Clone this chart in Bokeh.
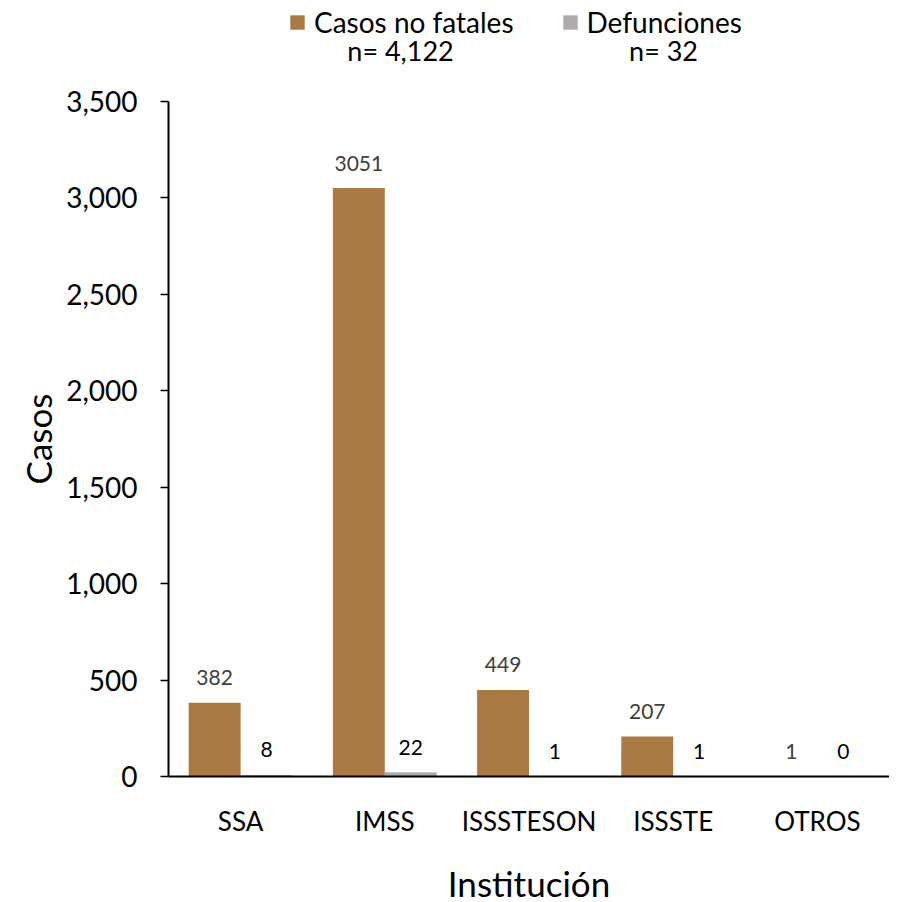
from bokeh.plotting import figure
from bokeh.models import (ColumnDataSource, Range1d, FactorRange, NumeralTickFormatter,
                          SingleIntervalTicker, Legend, LegendItem, Label, Title)
from bokeh.transform import dodge
from bokeh.core.properties import value
from bokeh.embed import file_html
from bokeh.resources import INLINE

# ---- data ----
instituciones = ["SSA", "IMSS", "ISSSTESON", "ISSSTE", "OTROS"]
casos_no_fatales = [382, 3051, 449, 207, 1]
defunciones = [8, 22, 1, 1, 0]
serie_nombres = ["Casos no fatales", "Defunciones"]
serie_totales = ["n= 4,122", "n= 32"]

BROWN = "#A97A43"
GRAY = "#AFABAB"
FONT = "Lato"

src = ColumnDataSource(dict(
    inst=instituciones,
    nf=casos_no_fatales,
    de=defunciones,
    nf_txt=[str(v) for v in casos_no_fatales],
    de_txt=[str(v) for v in defunciones],
))

# y range extends above 3,500 to leave room for the legend; the axis stops at 3,500
p = figure(x_range=FactorRange(*instituciones, range_padding=0),
           y_range=Range1d(0, 4013),
           frame_width=721, frame_height=774,
           output_backend="svg", toolbar_location=None,
           min_border_left=168, min_border_right=0, min_border_top=2,
           min_border_bottom=0)

r1 = p.vbar(x=dodge("inst", -0.18, range=p.x_range), top="nf", width=0.36,
            source=src, fill_color=BROWN, line_color=None)
r2 = p.vbar(x=dodge("inst", 0.18, range=p.x_range), top="de", width=0.36,
            source=src, fill_color=GRAY, line_color=None)

p.text(x=dodge("inst", -0.18, range=p.x_range), y="nf", text="nf_txt", source=src,
       text_font=value(FONT), text_font_size="21px", text_color="#404040",
       text_align="center", text_baseline="middle", y_offset=-25)
p.text(x=dodge("inst", 0.18, range=p.x_range), y="de", text="de_txt", source=src,
       text_font=value(FONT), text_font_size="21px", text_color="#000000",
       text_align="center", text_baseline="middle", y_offset=-25)

# axes
p.xgrid.grid_line_color = None
p.ygrid.grid_line_color = None
p.outline_line_color = None

yax = p.yaxis[0]
yax.bounds = (0, 3500)
yax.ticker = SingleIntervalTicker(interval=500, num_minor_ticks=0)
yax.formatter = NumeralTickFormatter(format="0,0")
yax.axis_line_color = "black"
yax.axis_line_width = 2
yax.major_tick_line_color = "black"
yax.major_tick_line_width = 1.5
yax.major_tick_out = 8
yax.major_tick_in = 0
yax.minor_tick_line_color = None
yax.major_label_text_font = FONT
yax.major_label_text_font_size = "28px"
yax.major_label_text_color = "#000000"
yax.major_label_standoff = 23

# y-axis title, centred on the 0-3,500 span of the axis
p.add_layout(Title(text="Casos", align="left", offset=292,
                   text_font=FONT, text_font_size="35px", text_font_style="normal",
                   text_color="#000000", standoff=10), "left")

xax = p.xaxis[0]
xax.axis_line_color = "black"
xax.axis_line_width = 2
xax.major_tick_line_color = None
xax.major_tick_out = 0
xax.major_tick_in = 0
xax.minor_tick_line_color = None
xax.major_label_text_font = FONT
xax.major_label_text_font_size = "26px"
xax.major_label_text_color = "#000000"
xax.major_label_standoff = 28
xax.axis_label = "Institución"
xax.axis_label_text_font = FONT
xax.axis_label_text_font_size = "35px"
xax.axis_label_text_font_style = "normal"
xax.axis_label_text_color = "#000000"
xax.axis_label_standoff = 22

# legend at the top of the plot area
legend = Legend(items=[LegendItem(label=serie_nombres[0], renderers=[r1]),
                       LegendItem(label=serie_nombres[1], renderers=[r2])],
                orientation="horizontal", location=(120, 737),
                glyph_width=18, glyph_height=18, label_standoff=8, spacing=47,
                padding=0, margin=0, border_line_color=None,
                background_fill_alpha=0,
                label_text_font=FONT, label_text_font_size="28px",
                label_text_color="#000000")
p.add_layout(legend)

for txt, xs in zip(serie_totales, [1.609, 3.433]):
    p.add_layout(Label(x=xs, y=3764, text=txt,
                       text_font=FONT, text_font_size="27px", text_color="#000000",
                       text_align="center", text_baseline="middle"))

open("out.html", "w").write(file_html(p, INLINE))
